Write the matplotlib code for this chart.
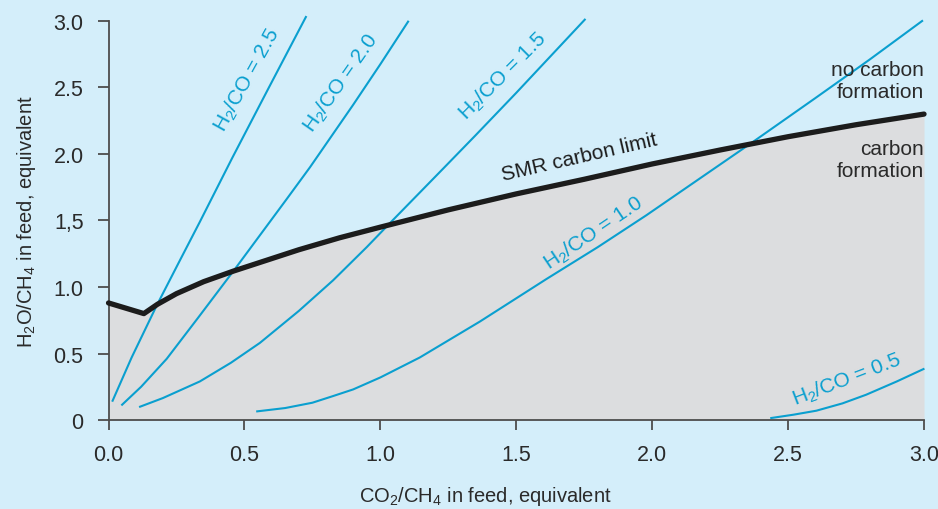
import matplotlib
matplotlib.use("Agg")
import matplotlib.pyplot as plt
from matplotlib import font_manager

# police : Arial-like
noms = {f.name for f in font_manager.fontManager.ttflist}
police = "Liberation Sans" if "Liberation Sans" in noms else "DejaVu Sans"
plt.rcParams["font.family"] = [police, "DejaVu Sans"]
plt.rcParams["mathtext.fontset"] = "custom"
plt.rcParams["mathtext.rm"] = police
plt.rcParams["mathtext.it"] = police + ":italic"

# Données
smr_x = [0, 0.13, 0.18, 0.25, 0.35, 0.46, 0.58, 0.70, 0.85, 1.0, 1.25, 1.5, 1.75, 2.0, 2.25, 2.5, 2.75, 3.0]
smr_y = [0.88, 0.80, 0.87, 0.95, 1.04, 1.12, 1.20, 1.28, 1.37, 1.45, 1.58, 1.70, 1.81, 1.925, 2.03, 2.13, 2.22, 2.30]

r25_x = [0.015, 0.085, 0.177, 0.26, 0.336, 0.455, 0.59, 0.726]
r25_y = [0.145, 0.47, 0.86, 1.19, 1.49, 1.97, 2.50, 3.03]

r20_x = [0.05, 0.12, 0.214, 0.33, 0.465, 0.655, 0.741, 0.9, 1.0, 1.102]
r20_y = [0.115, 0.25, 0.46, 0.77, 1.135, 1.66, 1.90, 2.37, 2.675, 2.995]

r15_x = [0.116, 0.2, 0.336, 0.45, 0.557, 0.7, 0.826, 0.95, 1.035, 1.145, 1.231, 1.35, 1.5, 1.752]
r15_y = [0.10, 0.165, 0.29, 0.43, 0.58, 0.82, 1.05, 1.30, 1.48, 1.71, 1.89, 2.14, 2.46, 3.01]

r10_x = [0.547, 0.65, 0.75, 0.826, 0.9, 1.0, 1.145, 1.366, 1.611, 1.8, 1.979, 2.37, 2.6, 2.8, 2.993]
r10_y = [0.065, 0.09, 0.13, 0.18, 0.23, 0.32, 0.47, 0.74, 1.06, 1.30, 1.54, 2.09, 2.42, 2.71, 3.0]

r05_x = [2.438, 2.52, 2.604, 2.70, 2.787, 2.9, 2.998]
r05_y = [0.015, 0.04, 0.07, 0.125, 0.19, 0.29, 0.383]

x_ticks = [0, 0.5, 1.0, 1.5, 2.0, 2.5, 3.0]
x_labels = ["0.0", "0.5", "1.0", "1.5", "2.0", "2.5", "3.0"]
y_ticks = [0, 0.5, 1.0, 1.5, 2.0, 2.5, 3.0]
y_labels = ["0", "0.5", "1.0", "1,5", "2.0", "2.5", "3.0"]

# étiquettes des courbes : (texte, x, y, angle)
etiquettes = [
    ("H$_2$/CO = 2.5", 0.509, 2.56, 61),
    ("H$_2$/CO = 2.0", 0.855, 2.54, 55),
    ("H$_2$/CO = 1.5", 1.45, 2.59, 45),
    ("H$_2$/CO = 1.0", 1.785, 1.41, 34),
    ("H$_2$/CO = 0.5", 2.715, 0.31, 21),
]

FOND = "#d4eefa"
GRIS = "#dcdddf"
BLEU = "#0a9fcf"
NOIR = "#1c1c1c"
AXE = "#4d4d4d"

fig = plt.figure(figsize=(9.38, 5.10), dpi=100)
fig.patch.set_facecolor(FOND)
ax = fig.add_axes([0.1157, 0.1745, 0.8694, 0.7824])
ax.set_facecolor(FOND)

ax.fill_between(smr_x, 0, smr_y, color=GRIS, lw=0, zorder=1)

for xs, ys in [(r25_x, r25_y), (r20_x, r20_y), (r15_x, r15_y), (r10_x, r10_y), (r05_x, r05_y)]:
    ax.plot(xs, ys, color=BLEU, lw=1.5, zorder=2, clip_on=False)

ax.plot(smr_x, smr_y, color=NOIR, lw=3.8, zorder=3, clip_on=False, solid_capstyle="round")

for txt, tx, ty, ang in etiquettes:
    ax.text(tx, ty, txt, color=BLEU, fontsize=15, rotation=ang,
            rotation_mode="anchor", ha="center", va="center", zorder=4)

ax.text(1.73, 1.98, "SMR carbon limit", color=NOIR, fontsize=15, rotation=13,
        rotation_mode="anchor", ha="center", va="center", zorder=4)
ax.text(3.0, 2.55, "no carbon\nformation", color="#2a2a2a", fontsize=15,
        ha="right", va="center", linespacing=1.2, zorder=4)
ax.text(3.0, 1.96, "carbon\nformation", color="#2a2a2a", fontsize=15,
        ha="right", va="center", linespacing=1.2, zorder=4)

ax.set_xlim(0, 3)
ax.set_ylim(0, 3)
ax.set_xticks(x_ticks)
ax.set_xticklabels(x_labels)
ax.set_yticks(y_ticks)
ax.set_yticklabels(y_labels)

for s in ["top", "right"]:
    ax.spines[s].set_visible(False)
for s in ["left", "bottom"]:
    ax.spines[s].set_color(AXE)
    ax.spines[s].set_linewidth(1.3)
ax.tick_params(axis="both", direction="out", color=AXE, width=1.3,
               labelsize=15.5, labelcolor="#2a2a2a")
ax.tick_params(axis="y", length=8, pad=10)
ax.tick_params(axis="x", length=7, pad=10)

ax.set_xlabel("CO$_2$/CH$_4$ in feed, equivalent", fontsize=14.5, color="#2a2a2a")
ax.set_ylabel("H$_2$O/CH$_4$ in feed, equivalent", fontsize=14.5, color="#2a2a2a")
ax.xaxis.set_label_coords(0.462, -0.16)
ax.yaxis.set_label_coords(-0.087, 0.5)

plt.savefig("out.png", dpi=100, facecolor=FOND)
plt.close()
